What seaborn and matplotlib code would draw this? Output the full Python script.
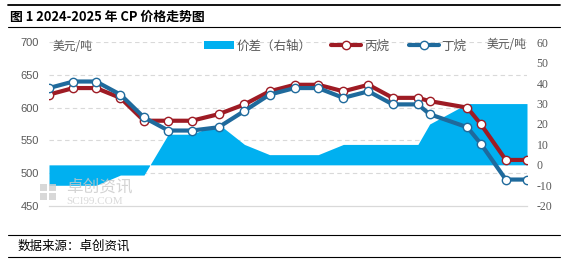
import matplotlib
matplotlib.use("Agg")
import matplotlib.pyplot as plt
import matplotlib.dates as mdates
from matplotlib.patches import Patch
from matplotlib.lines import Line2D
import seaborn as sns
import pandas as pd
import numpy as np

# ---------------- data ----------------
dates = ["2024-01-01", "2024-02-01", "2024-03-01", "2024-04-01", "2024-05-01",
         "2024-06-01", "2024-07-01", "2024-08-04", "2024-09-06", "2024-10-08",
         "2024-11-09", "2024-12-09", "2025-01-10", "2025-02-11", "2025-03-14",
         "2025-04-15", "2025-04-30", "2025-06-17", "2025-07-04", "2025-08-05",
         "2025-09-01"]
propane = [620, 630, 630, 615, 580, 580, 580, 590, 605, 625, 635, 635,
           625, 635, 615, 615, 610, 600, 575, 520, 520]
butane = [630, 640, 640, 620, 585, 565, 565, 570, 595, 620, 630, 630,
          615, 625, 605, 605, 590, 570, 545, 490, 490]
spread = [-10, -10, -10, -5, -5, 15, 15, 20, 10, 5, 5, 5,
          10, 10, 10, 10, 20, 30, 30, 30, 30]
tick_dates = ["2024-01-01", "2024-03-01", "2024-05-01", "2024-07-01", "2024-09-01",
              "2024-11-01", "2025-01-01", "2025-03-01", "2025-05-01", "2025-07-01",
              "2025-09-01"]
tick_labels = ["24/01", "24/03", "24/05", "24/07", "24/09", "24/11",
               "25/01", "25/03", "25/05", "25/07", "25/09"]
left_ticks = [450, 500, 550, 600, 650, 700]
right_ticks = [-20, -10, 0, 10, 20, 30, 40, 50, 60]

title = "图 1 2024-2025 年 CP 价格走势图"
source = "数据来源：卓创资讯"
unit = "美元/吨"
name_spread = "价差（右轴）"
name_propane = "丙烷"
name_butane = "丁烷"

# ---------------- style ----------------
sns.set_theme(style="white")
CJK = ["Noto Sans CJK SC", "DejaVu Sans"]
plt.rcParams["font.family"] = CJK

RED = "#9E1B24"
BLUE = "#1F6A9C"
AREA = "#00B0F0"
GRAY = "#595959"

W, H = 566, 264
fig = plt.figure(figsize=(W / 100, H / 100), dpi=100)

def fx(px):
    return px / W

def fy(py):
    return 1 - py / H

L, R, T, B = 49, 527, 42.3, 205.7
rect = [fx(L), fy(B), fx(R) - fx(L), fy(T) - fy(B)]

df = pd.DataFrame({"date": pd.to_datetime(dates), "propane": propane,
                   "butane": butane, "spread": spread})

# base axes: left scale, gridlines, labels
ax = fig.add_axes(rect)
ax.set_zorder(0)
# area axes (right scale)
ax2 = ax.twinx()
ax2.set_zorder(1)
ax2.patch.set_visible(False)
# lines axes (left scale again, on top)
ax3 = ax.twinx()
ax3.set_zorder(2)
ax3.patch.set_visible(False)

xmin, xmax = df["date"].iloc[0], df["date"].iloc[-1]

ax2.fill_between(df["date"], 0, df["spread"], color=AREA, linewidth=0)
ax2.set_ylim(-20, 60)
ax2.set_yticks(right_ticks)
ax2.set_yticklabels([str(v) for v in right_ticks], family="Liberation Serif",
                    fontsize=8.5, color=GRAY)
ax2.tick_params(axis="y", length=0, pad=7)

for col, c in (("propane", RED), ("butane", BLUE)):
    sns.lineplot(data=df, x="date", y=col, ax=ax3, color=c, linewidth=3,
                 marker="o", markersize=6, markerfacecolor="white",
                 markeredgecolor=c, markeredgewidth=1.0, legend=False)
ax3.set_ylim(450, 700)
ax3.set_yticks([])
ax3.set_ylabel("")
ax3.set_xlabel("")

ax.set_ylim(450, 700)
ax.set_yticks(left_ticks)
ax.set_yticklabels([str(v) for v in left_ticks], family="Liberation Sans",
                   fontsize=8, color=GRAY)
ax.tick_params(axis="y", length=0, pad=7)
for v in left_ticks[1:]:
    ax.axhline(v, color="#D9D9D9", linewidth=0.8, linestyle=(0, (4, 3)), zorder=0)

for a in (ax, ax2, ax3):
    a.set_xlim(xmin, xmax)
    for s in a.spines.values():
        s.set_visible(False)
    a.set_xlabel("")
    a.set_ylabel("")
    a.grid(False)

ax.spines["bottom"].set_visible(True)
ax.spines["bottom"].set_color("#D9D9D9")
ax.spines["bottom"].set_linewidth(0.9)
ax.set_xticks(pd.to_datetime(tick_dates))
ax.set_xticklabels(tick_labels, family="Liberation Serif", fontsize=9, color=GRAY)
ax.tick_params(axis="x", length=3, width=0.8, color="#D9D9D9", pad=2, direction="out")
ax2.set_xticks([])
ax3.set_xticks([])

# unit labels
fig.text(fx(53), fy(46), unit, fontsize=8.5, color=GRAY, va="center", ha="left")
fig.text(fx(487), fy(45), unit, fontsize=8.5, color=GRAY, va="center", ha="left")

# legend
handles = [Patch(facecolor=AREA, edgecolor="none"),
           Line2D([], [], color=RED, linewidth=3, marker="o", markersize=6,
                  markerfacecolor="white", markeredgecolor=RED, markeredgewidth=1.0),
           Line2D([], [], color=BLUE, linewidth=3, marker="o", markersize=6,
                  markerfacecolor="white", markeredgecolor=BLUE, markeredgewidth=1.0)]
leg = ax3.legend(handles, [name_spread, name_propane, name_butane], ncol=3,
                 loc="center", bbox_to_anchor=(fx(335), fy(46)),
                 bbox_transform=fig.transFigure, frameon=False,
                 fontsize=9, handlelength=2.4, handleheight=0.55,
                 handletextpad=0.2, columnspacing=1.6)
for t in leg.get_texts():
    t.set_color(GRAY)

# watermark
fig.text(fx(66), fy(187), "卓创资讯", fontsize=12, color="#C8C8C8", va="center",
         ha="left", alpha=0.8)
fig.text(fx(66), fy(202), "SCI99.COM", fontsize=8, color="#D0D0D0", va="center",
         ha="left", family="Liberation Serif", alpha=0.8)
for i in range(2):
    for j in range(2):
        fig.patches.append(plt.Rectangle((fx(40 + i * 9), fy(191 + j * 9)),
                                         fx(7), 7 / H, transform=fig.transFigure,
                                         facecolor="#CFCFCF", edgecolor="none",
                                         alpha=0.8))

# title and frame lines
fig.add_artist(Line2D([fx(8), fx(560)], [fy(5), fy(5)], color="black", linewidth=1.3))
fig.add_artist(Line2D([fx(8), fx(560)], [fy(27), fy(27)], color="black", linewidth=0.8))
fig.text(fx(10), fy(16.5), title, fontsize=9.3, fontweight="bold", color="black",
         va="center", ha="left")
fig.add_artist(Line2D([fx(8), fx(560)], [fy(235), fy(235)], color="black", linewidth=0.8))
fig.add_artist(Line2D([fx(8), fx(560)], [fy(257), fy(257)], color="black", linewidth=0.8))
fig.text(fx(18), fy(246), source, fontsize=9, color="black", va="center", ha="left")

fig.savefig("out.png", dpi=100)
